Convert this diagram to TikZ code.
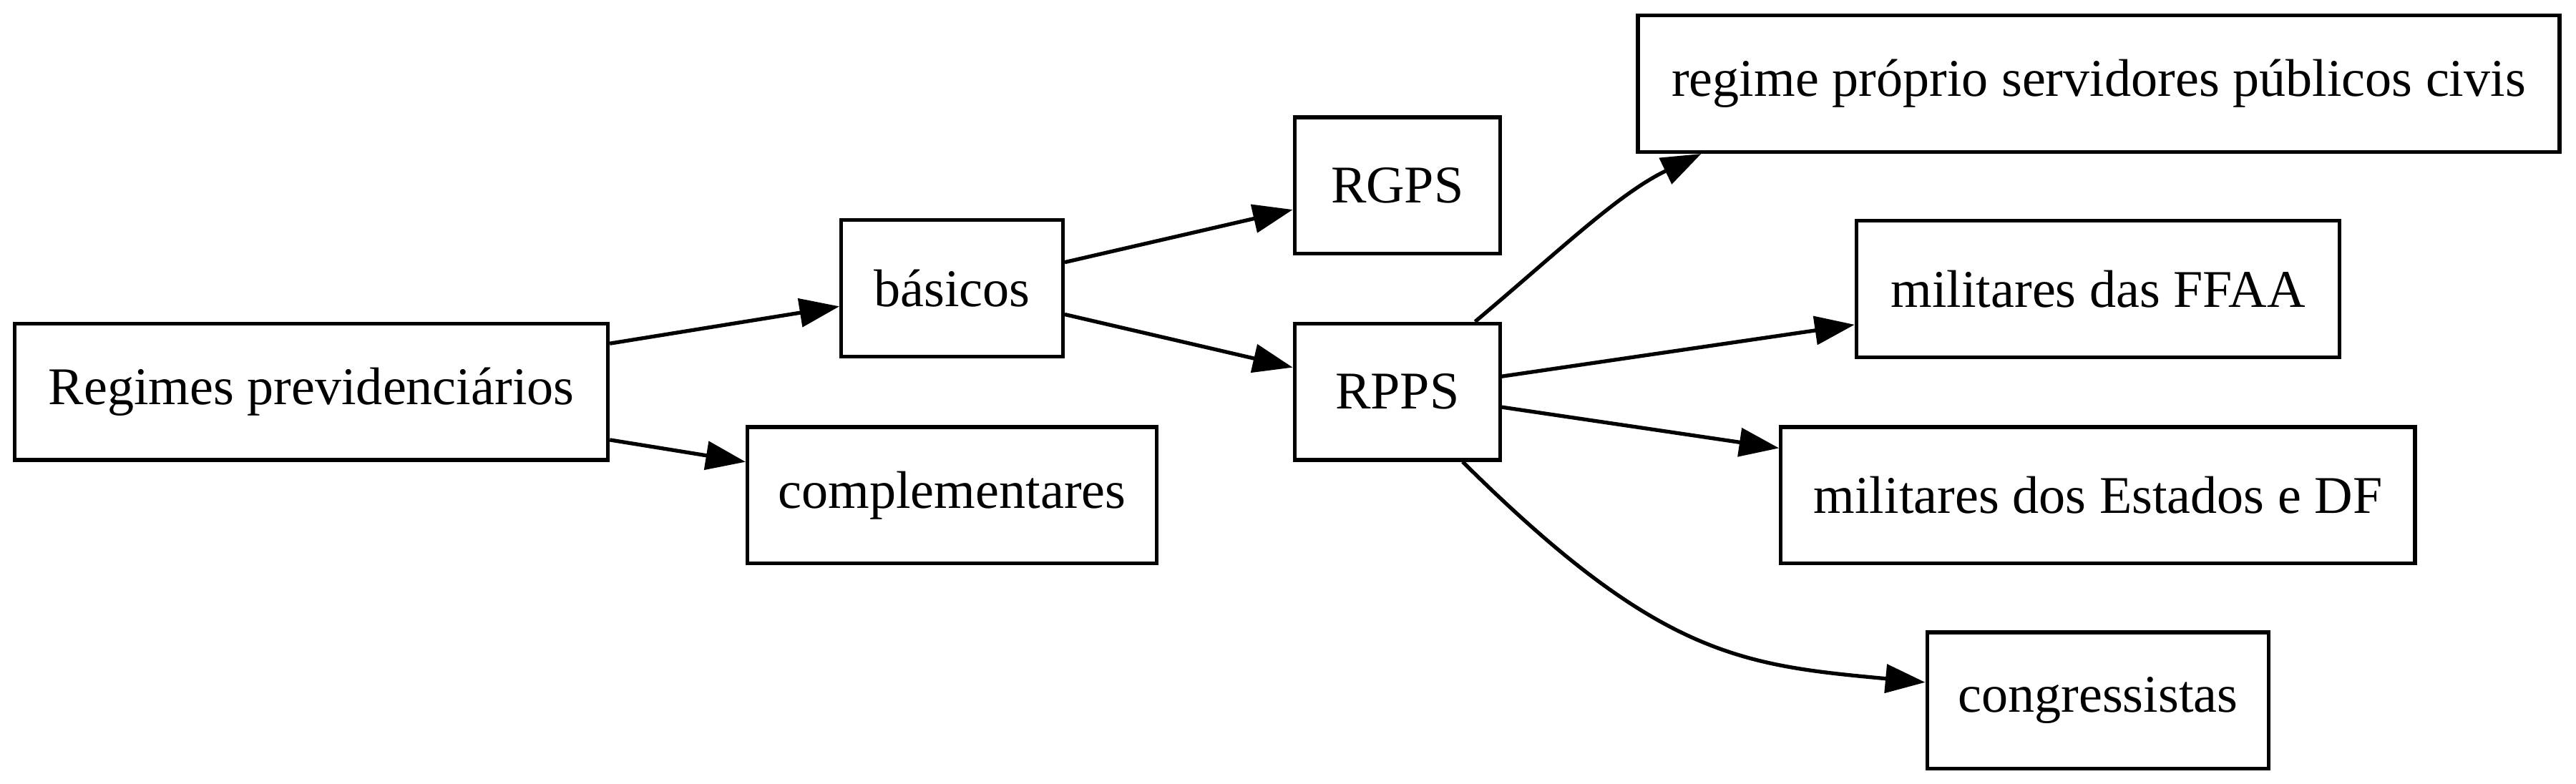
\documentclass[tikz,border=0pt]{standalone}
\usepackage{fontspec}
\setmainfont{Liberation Serif}
\usetikzlibrary{arrows.meta}

\begin{document}
\begin{tikzpicture}[x=0.4337pt, y=-0.4337pt,
  box/.style={draw, line width=1pt, inner sep=0pt, minimum height=36pt,
    font=\fontsize{14}{16.8}\selectfont},
  link/.style={line width=1pt, -{Triangle[length=10.5pt, width=7.5pt]}}]
\useasboundingbox (0,0) rectangle (1568,477);
\node[box, minimum width=156.6pt] (reg) at (189.5,238.5) {Regimes previdenciários};
\node[box, minimum width=58.5pt] (bas) at (579.5,175.5) {básicos};
\node[box, minimum width=108pt] (compl) at (579.5,301.5) {complementares};
\node[box, minimum width=54.2pt] (rgps) at (850.5,113) {RGPS};
\node[box, minimum width=54.2pt] (rpps) at (850.5,238.5) {RPPS};
\node[box, minimum width=243.3pt] (civis) at (1277.5,51) {regime próprio servidores públicos civis};
\node[box, minimum width=127.5pt] (ffaa) at (1277,176) {militares das FFAA};
\node[box, minimum width=167.4pt] (estados) at (1277,301.5) {militares dos Estados e DF};
\node[box, minimum width=90.2pt] (congr) at (1277,426.5) {congressistas};
\draw[link] (reg) -- (bas);
\draw[link] (reg) -- (compl);
\draw[link] (bas) -- (rgps);
\draw[link] (bas) -- (rpps);
\draw[link] (rpps.42) .. controls (950,152) and (985,118) .. (civis.190);
\draw[link] (rpps) -- (ffaa);
\draw[link] (rpps) -- (estados);
\draw[link] (rpps.313) .. controls (1010,400) and (1060,405) .. (congr.174);
\end{tikzpicture}
\end{document}
